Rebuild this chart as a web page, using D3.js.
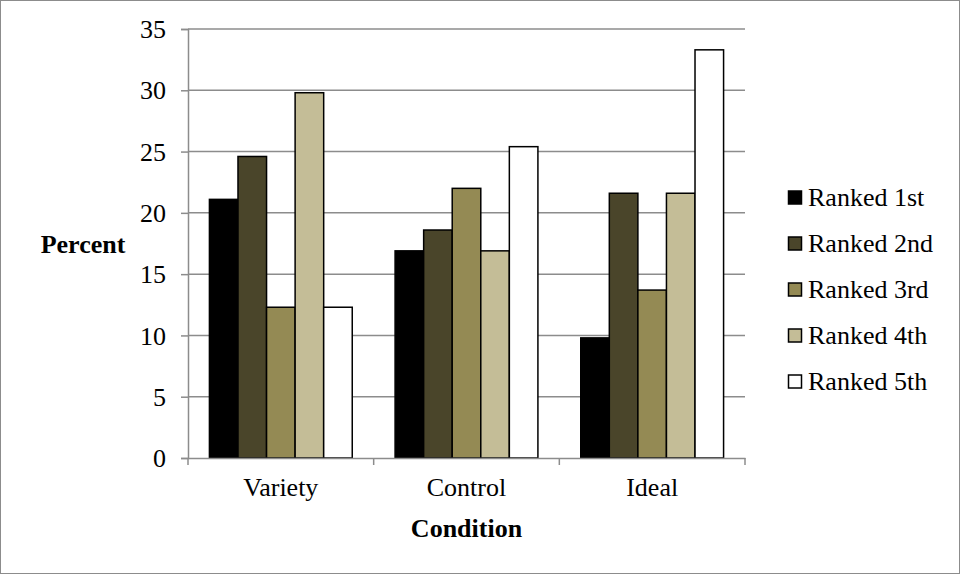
<!DOCTYPE html>
<html><head><meta charset="utf-8">
<script src="https://cdn.jsdelivr.net/npm/d3@7"></script>
<style>body{margin:0;background:#fff}svg{display:block}</style>
</head><body>
<svg id="c" width="961" height="575"></svg>
<script>
const categories = ["Variety", "Control", "Ideal"];
const seriesNames = ["Ranked 1st", "Ranked 2nd", "Ranked 3rd", "Ranked 4th", "Ranked 5th"];
const ranked1 = [21.1, 16.9, 9.8];
const ranked2 = [24.6, 18.6, 21.6];
const ranked3 = [12.3, 22.0, 13.7];
const ranked4 = [29.8, 16.9, 21.6];
const ranked5 = [12.3, 25.4, 33.3];
const yTicks = [0, 5, 10, 15, 20, 25, 30, 35];
const colors = ["#000000", "#4A452A", "#948A54", "#C4BD97", "#FFFFFF"];
const seriesValues = [ranked1, ranked2, ranked3, ranked4, ranked5];
const FONT = "'Liberation Serif', 'Times New Roman', serif";
const FS = "26px";

const svg = d3.select("#c");
svg.append("rect").attr("x",0.5).attr("y",0.5).attr("width",959).attr("height",573)
  .attr("fill","#fff").attr("stroke","#8c8c8c").attr("stroke-width",1);

const L=188, R=745, T=29, B=458;
const x0 = d3.scaleBand().domain(categories).range([L,R]).paddingInner(0).paddingOuter(0);
const y = d3.scaleLinear().domain([0,35]).range([B,T]);
const barW = x0.bandwidth()/(5+1.5);
const x1 = d3.scaleBand().domain(seriesNames).range([0.75*barW, 0.75*barW+5*barW]);

// gridlines
svg.append("g").selectAll("line").data(yTicks.filter(d=>d>0)).join("line")
  .attr("x1",L).attr("x2",R).attr("y1",d=>y(d)).attr("y2",d=>y(d))
  .attr("stroke","#8c8c8c").attr("stroke-width",1.5);

// y axis
const yAxis = svg.append("g").attr("transform",`translate(${L},0)`)
  .call(d3.axisLeft(y).tickValues(yTicks).tickSize(7).tickPadding(15).tickFormat(d3.format("d")));
yAxis.select(".domain").attr("stroke","#8c8c8c").attr("stroke-width",1.5);
yAxis.selectAll(".tick line").attr("stroke","#8c8c8c").attr("stroke-width",1.5);
yAxis.selectAll(".tick text").style("font-size",FS).style("font-family",FONT).attr("fill","#000").attr("dy","0.33em");

// bars
const groups = svg.append("g").selectAll("g").data(categories).join("g")
  .attr("transform",d=>`translate(${x0(d)},0)`);
groups.selectAll("rect").data((c,ci)=>seriesNames.map((s,si)=>({s,si,v:seriesValues[si][ci]}))).join("rect")
  .attr("x",d=>x1(d.s)).attr("width",x1.bandwidth())
  .attr("y",d=>y(d.v)).attr("height",d=>B-y(d.v))
  .attr("fill",d=>colors[d.si]).attr("stroke","#000").attr("stroke-width",1.5);

// x axis
const xAxis = svg.append("g").attr("transform",`translate(0,${B})`)
  .call(d3.axisBottom(x0).tickSize(0).tickPadding(20));
xAxis.select(".domain").attr("stroke","#8c8c8c").attr("stroke-width",1.5);
xAxis.selectAll(".tick text").style("font-size",FS).style("font-family",FONT).attr("fill","#000");
svg.append("g").selectAll("line").data([L, ...categories.map(c=>x0(c)+x0.bandwidth())]).join("line")
  .attr("x1",d=>d).attr("x2",d=>d).attr("y1",B).attr("y2",B+7)
  .attr("stroke","#8c8c8c").attr("stroke-width",1.5);

// axis titles
svg.append("text").attr("x",(L+R)/2).attr("y",537).attr("text-anchor","middle")
  .style("font-size",FS).style("font-family",FONT).attr("font-weight","bold").text("Condition");
svg.append("text").attr("x",83).attr("y",253).attr("text-anchor","middle")
  .style("font-size",FS).style("font-family",FONT).attr("font-weight","bold").text("Percent");

// legend
const lg = svg.append("g").selectAll("g").data(seriesNames).join("g")
  .attr("transform",(d,i)=>`translate(788,${197.5+i*46})`);
lg.append("rect").attr("x",0.5).attr("y",-6.5).attr("width",13).attr("height",13)
  .attr("fill",(d,i)=>colors[i]).attr("stroke","#000").attr("stroke-width",1.5);
lg.append("text").attr("x",20).attr("y",0).attr("dy","0.33em")
  .style("font-size",FS).style("font-family",FONT).text(d=>d);
</script>
</body></html>
